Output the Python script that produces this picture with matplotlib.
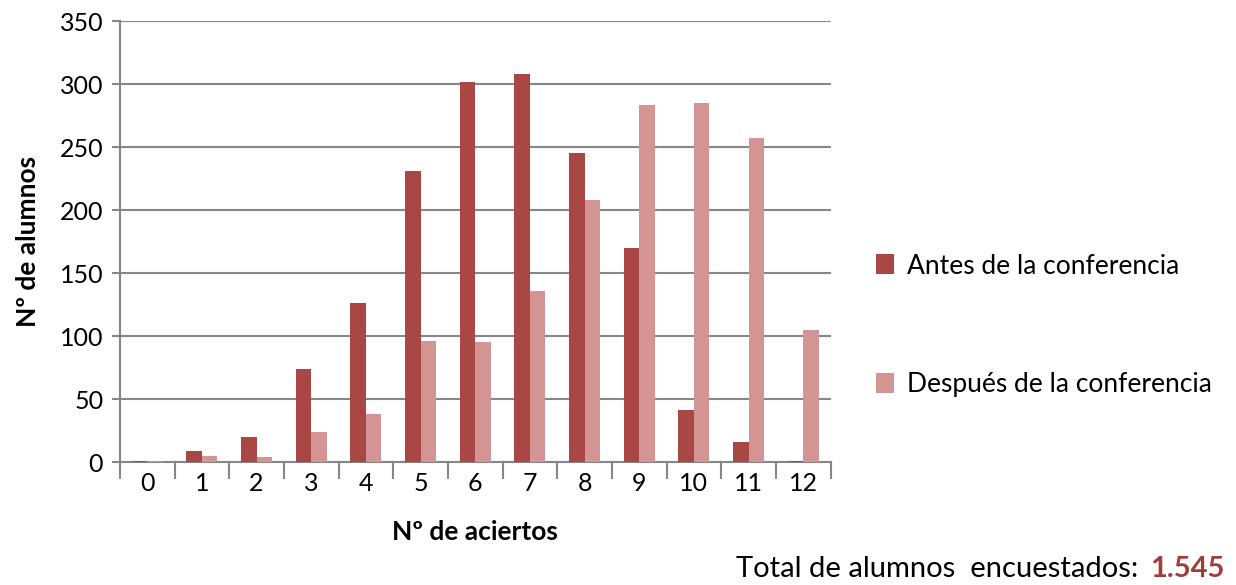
#!/usr/bin/python3

# bar chart: aciertos antes / despues de la conferencia

import matplotlib.pyplot as plt
import numpy as np

aciertos = ['0', '1', '2', '3', '4', '5', '6', '7', '8', '9', '10', '11', '12']
antes = [1, 9, 20, 74, 126, 231, 302, 308, 245, 170, 41, 16, 1]
despues = [1, 5, 4, 24, 38, 96, 95, 136, 208, 283, 285, 257, 105]
yticks = [0, 50, 100, 150, 200, 250, 300, 350]

plt.rcParams['font.family'] = ['Lato', 'DejaVu Sans']

fig = plt.figure(figsize=(12.36, 5.85), dpi=100)
ax = fig.add_axes([0.097, 0.21, 0.575, 0.754])

x = np.arange(len(aciertos))
w = 0.285
ax.bar(x - w / 2, antes, w, color='#A94744', label='Antes de la conferencia', zorder=3)
ax.bar(x + w / 2, despues, w, color='#D49494', label='Después de la conferencia', zorder=3)

# axes appearance
ax.set_xlim(-0.5, len(aciertos) - 0.5)
ax.set_ylim(0, 350)
ax.set_yticks(yticks)
ax.set_xticks(x)
ax.set_xticklabels(aciertos)
ax.set_xticks(np.arange(-0.5, len(aciertos), 1), minor=True)
ax.tick_params(axis='x', which='major', length=0, pad=7, labelsize=18)
ax.tick_params(axis='x', which='minor', length=12, color='#868686', width=1.5)
ax.tick_params(axis='y', length=6, color='#868686', width=1.5, labelsize=18, pad=6)
for s in ['top', 'right']:
    ax.spines[s].set_visible(False)
for s in ['left', 'bottom']:
    ax.spines[s].set_color('#868686')
    ax.spines[s].set_linewidth(1.5)
ax.grid(axis='y', color='#868686', linewidth=1.5, zorder=0)
ax.set_axisbelow(True)

ax.set_ylabel('Nº de alumnos', fontsize=19, fontweight='bold', labelpad=14)
ax.set_xlabel('Nº de aciertos', fontsize=19, fontweight='bold', labelpad=18)

ax.legend(loc='center left', bbox_to_anchor=(1.03, 0.31), frameon=False,
          fontsize=19, labelspacing=3.55, handlelength=0.7, handleheight=0.8,
          handletextpad=0.5)

fig.text(1138 / 1236, 1 - 577 / 585, 'Total de alumnos  encuestados:',
         fontsize=21, ha='right', va='baseline')
fig.text(1150 / 1236, 1 - 577 / 585, '1.545', fontsize=21, fontweight='bold',
         color='#A03C3A', ha='left', va='baseline')

fig.savefig('out.png')
